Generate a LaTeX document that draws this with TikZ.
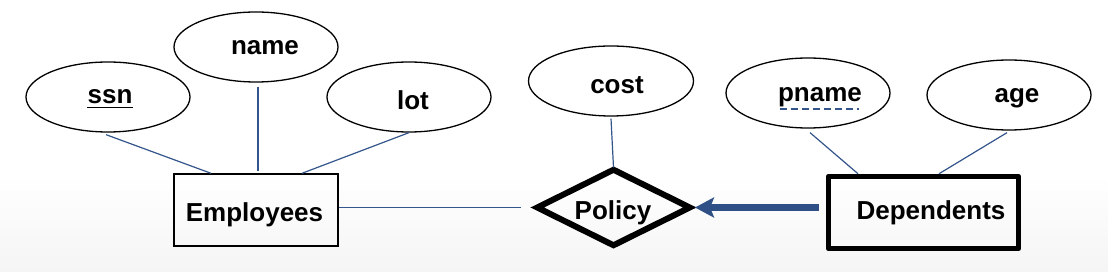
\documentclass[tikz,border=0pt]{standalone}
\usepackage{fontspec}
\setmainfont{Liberation Sans}
\usetikzlibrary{shapes.geometric,arrows.meta,calc}
\definecolor{linecol}{RGB}{52,85,139}
\definecolor{arrowcol}{RGB}{46,80,134}
\begin{document}
\begin{tikzpicture}[x=1pt,y=-1pt,
  attr/.style={draw=black,line width=1.3pt,ellipse,inner sep=0pt,minimum width=164pt,minimum height=70pt},
  lbl/.style={anchor=base,inner sep=0pt,font=\fontsize{26}{30}\selectfont\bfseries},
  conn/.style={draw=linecol,line width=1.2pt},
  entity/.style={draw=black,line width=1.4pt,rectangle,inner sep=0pt,minimum width=164pt,minimum height=72pt},
  weakentity/.style={draw=black,line width=5.5pt,rectangle,inner sep=0pt,minimum width=190pt,minimum height=72pt,line join=round},
  rel/.style={draw=black,line width=6pt,diamond,inner sep=0pt,minimum width=155pt,minimum height=78pt,line join=miter}]
\fill[white] (0,0) rectangle (1108,272);
\useasboundingbox (0,0) rectangle (1108,272);
\fill[top color=white,bottom color=black!4] (0,175) rectangle (1108,272);

% attributes
\node[attr] (ssn) at (108,97) {};
\node[attr] (name) at (256,47) {};
\node[attr] (lot) at (409,97) {};
\node[attr,minimum width=165pt] (cost) at (611,81) {};
\node[attr] (pname) at (808,93) {};
\node[attr] (age) at (1009,95) {};

% entities and relationship
\node[entity] (emp) at (256,210) {};
\node[rel] (pol) at (613.5,207.5) {};
\node[weakentity] (dep) at (923.5,212.5) {};

% labels
\node[lbl] (ssnT) at (110,104) {ssn};
\node[lbl] (nameT) at (265,55) {name};
\node[lbl] (lotT) at (413,110) {lot};
\node[lbl] (costT) at (617,94) {cost};
\node[lbl] (pnameT) at (820,102) {pname};
\node[lbl] (ageT) at (1017,103) {age};
\node[lbl] (empT) at (254.5,222) {Employees};
\node[lbl] (polT) at (613,220) {Policy};
\node[lbl] (depT) at (931,220) {Dependents};

% underlines
\draw[line width=1.3pt] ([yshift=-3.5pt]ssnT.base west) -- ([yshift=-3.5pt]ssnT.base east);
\draw[linecol,line width=1.2pt,dash pattern=on 7pt off 4pt] ([xshift=2pt,yshift=-7pt]pnameT.base west) -- ([xshift=-3pt,yshift=-7pt]pnameT.base east);

% connectors
\draw[conn] ([xshift=-2pt,yshift=-2pt]ssn.south) -- ([xshift=-45pt]emp.north);
\draw[conn] ([xshift=2pt,yshift=-4pt]name.south) -- ([xshift=2pt,yshift=2pt]emp.north);
\draw[conn] (lot.south) -- ([xshift=46pt]emp.north);
\draw[conn] ([yshift=-2pt]cost.south) -- ([yshift=-2pt]pol.north);
\draw[conn] ([xshift=2pt,yshift=-4pt]pname.south) -- ([xshift=-65.5pt]dep.north);
\draw[conn] ([xshift=-2pt,yshift=-2pt]age.south) -- ([xshift=15.5pt]dep.north);
\draw[conn] (emp.east |- pol.west) -- ([xshift=-12pt]pol.west);
\draw[arrowcol,line width=6.5pt,-{Stealth[length=19pt,width=20pt,inset=4pt]}] ([xshift=-7pt]dep.west |- pol.east) -- ([xshift=1pt]pol.east);
\end{tikzpicture}
\end{document}
